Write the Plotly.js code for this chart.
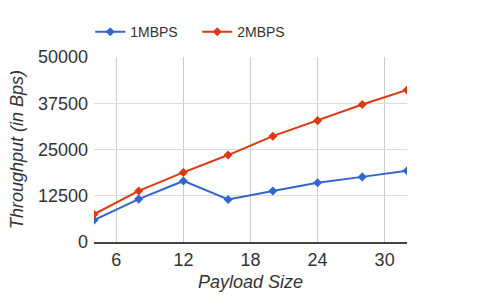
<!DOCTYPE html>
<html>
<head>
<meta charset="utf-8">
<script src="https://cdn.plot.ly/plotly-3.0.1.min.js"></script>
<style>html,body{margin:0;padding:0;background:#fff;}#chart{width:500px;height:300px;}</style>
</head>
<body>
<div id="chart"></div>
<script>
const payloadSizes = [4, 8, 12, 16, 20, 24, 28, 32];
const mbps1 = [5900, 11600, 16500, 11500, 13800, 16000, 17600, 19250];
const mbps2 = [7500, 13800, 18800, 23500, 28600, 32800, 37150, 41100];
const xTicks = [6, 12, 18, 24, 30];
const yTicks = [0, 12500, 25000, 37500, 50000];

const font = 'Arial, "Liberation Sans", sans-serif';
const traces = [
  {x: payloadSizes, y: mbps1, name: '1MBPS', type: 'scatter', mode: 'lines+markers',
   line: {color: '#3366cc', width: 2}, marker: {symbol: 'diamond', size: 7, color: '#3366cc'}},
  {x: payloadSizes, y: mbps2, name: '2MBPS', type: 'scatter', mode: 'lines+markers',
   line: {color: '#dc3912', width: 2}, marker: {symbol: 'diamond', size: 7, color: '#dc3912'}}
];
const layout = {
  width: 500, height: 300,
  margin: {l: 94, r: 93, t: 57, b: 58},
  paper_bgcolor: '#fff', plot_bgcolor: '#fff',
  font: {family: font, color: '#333', size: 18},
  showlegend: true,
  legend: {orientation: 'h', x: -0.012, xanchor: 'left', y: 1.048, yanchor: 'bottom',
           font: {size: 14, color: '#333'}, itemwidth: 30, tracegroupgap: 0,
           entrywidth: 62, entrywidthmode: 'pixels'},
  xaxis: {range: [4, 32], tickvals: xTicks, ticktext: xTicks.map(String),
          showgrid: true, gridcolor: '#cccccc', zeroline: false,
          showline: true, linecolor: '#444', linewidth: 2, ticks: '',
          tickfont: {size: 18, color: '#333'},
          title: {text: 'Payload Size', font: {size: 18, color: '#333'}, standoff: 7}},
  yaxis: {range: [0, 50000], tickvals: yTicks, ticktext: yTicks.map(String),
          showgrid: true, gridcolor: '#dddddd', zeroline: false, showline: false, ticks: '',
          ticklabelstandoff: 5,
          tickfont: {size: 18, color: '#333'},
          title: {text: 'Throughput (in Bps)', font: {size: 18, color: '#333'}, standoff: 9}}
};
Plotly.newPlot('chart', traces, layout, {displayModeBar: false, staticPlot: true}).then(() => {
  document.querySelectorAll('.g-xtitle text, .g-ytitle text').forEach(t => t.style.fontStyle = 'italic');
});
</script>
</body>
</html>
